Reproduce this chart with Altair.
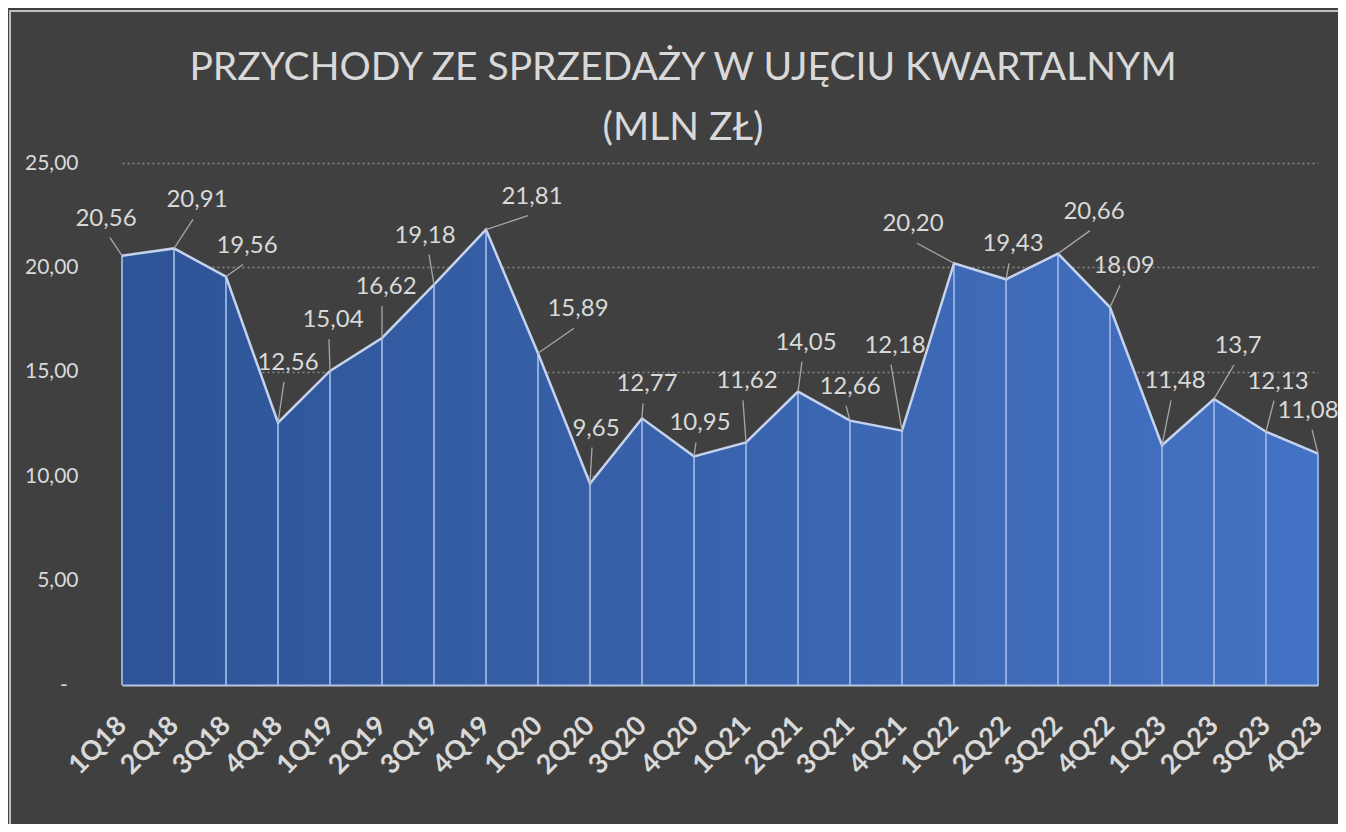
import altair as alt
import pandas as pd

quarters = ["1Q18", "2Q18", "3Q18", "4Q18", "1Q19", "2Q19", "3Q19", "4Q19",
            "1Q20", "2Q20", "3Q20", "4Q20", "1Q21", "2Q21", "3Q21", "4Q21",
            "1Q22", "2Q22", "3Q22", "4Q22", "1Q23", "2Q23", "3Q23", "4Q23"]
revenue = [20.56, 20.91, 19.56, 12.56, 15.04, 16.62, 19.18, 21.81,
           15.89, 9.65, 12.77, 10.95, 11.62, 14.05, 12.66, 12.18,
           20.20, 19.43, 20.66, 18.09, 11.48, 13.7, 12.13, 11.08]
value_labels = ["20,56", "20,91", "19,56", "12,56", "15,04", "16,62", "19,18", "21,81",
                "15,89", "9,65", "12,77", "10,95", "11,62", "14,05", "12,66", "12,18",
                "20,20", "19,43", "20,66", "18,09", "11,48", "13,7", "12,13", "11,08"]
y_ticks = [0, 5, 10, 15, 20, 25]
title_lines = ["PRZYCHODY ZE SPRZEDAŻY W UJĘCIU KWARTALNYM", "(MLN ZŁ)"]

# manual data-label placement (pixel nudge of each label from its point, as in the source)
label_dx = [-16, 23, 21, 10, 3, 4, -9, 46, 40, 6, 5, 6, 1, 8, 0, -7, -41, 7, 36, 14, 13, 24, 12, -10]
label_dy = [-37, -48, -31, -60, -51, -51, -49, -33, -44, -55, -34, -33, -61, -49, -34, -85,
            -39, -35, -42, -41, -64, -53, -50, -43]

df = pd.DataFrame({"q": quarters, "value": revenue, "label": value_labels,
                   "dx": label_dx, "dy": label_dy})

# leader lines: from point to just below its label
lead_rows = []
for q, v, dx, dy in zip(quarters, revenue, label_dx, label_dy):
    lead_rows.append({"q": q, "value": v, "ox": 0, "oy": 0})
    lead_rows.append({"q": q, "value": v, "ox": dx - 4 if dx > -8 else dx + 4, "oy": dy + 19})
lead_df = pd.DataFrame(lead_rows)

FONT = "Lato"
TXT = "#D9D9D9"
W, H = 1196, 522
YMAX = 25
PX = YMAX / H  # value units per pixel on the y scale
PAD = {"left": 114, "top": 155, "right": 20, "bottom": 139}

x = alt.X("q:N", sort=quarters, scale=alt.Scale(type="point", padding=0),
          axis=alt.Axis(title=None, labelAngle=-45, labelAlign="right", labelBaseline="middle",
                        labelFontWeight="bold", labelFontSize=27, labelColor=TXT, labelFont=FONT,
                        labelPadding=36, ticks=False, domain=True, domainColor="#B4C3E0",
                        domainWidth=2, grid=False, zindex=1))
yscale = alt.Scale(domain=[0, YMAX], nice=False, zero=True)
y = alt.Y("value:Q", scale=yscale,
          axis=alt.Axis(title=None, values=y_ticks, grid=True, gridDash=[2, 3],
                        gridColor="#8A8A8A", gridWidth=1.5, domain=False, ticks=False,
                        labelPadding=44, labelFontSize=21, labelColor=TXT, labelFont=FONT,
                        labelExpr="datum.value == 0 ? '-\u00a0\u00a0\u200b' : replace(format(datum.value, '.2f'), '.', ',')"))

base = alt.Chart(df)

gradient = alt.Gradient(gradient="linear", x1=0, x2=1, y1=0, y2=0,
                        stops=[alt.GradientStop(color="#2E5496", offset=0),
                               alt.GradientStop(color="#4472C4", offset=1)])

area = base.mark_area(color=gradient, opacity=1).encode(x=x, y=y)
drops = base.mark_rule(color="#8FAADC", strokeWidth=2).encode(x=x, y=y, y2=alt.datum(0))
topline = base.mark_line(color="#C5D3EE", strokeWidth=2.5).encode(x=x, y=y)
leaders = alt.Chart(lead_df).transform_calculate(
    ly=f"datum.value - datum.oy * {PX}"
).mark_line(color="#A6A6A6", strokeWidth=1.3).encode(
    x=x, y=alt.Y("ly:Q", scale=yscale), detail="q:N",
    xOffset=alt.XOffset("ox:Q", scale=None))
labels = base.transform_calculate(
    ly=f"datum.value - datum.dy * {PX}"
).mark_text(fontSize=24, font=FONT, color=TXT, baseline="middle", align="center").encode(
    x=x, y=alt.Y("ly:Q", scale=yscale), text="label:N",
    xOffset=alt.XOffset("dx:Q", scale=None))

one = alt.Data(values=[{}])
frame = alt.Chart(one).mark_rect(fill=None, stroke="#BFBFBF", strokeWidth=2).encode(
    x=alt.value(-PAD["left"] + 2), x2=alt.value(W + PAD["right"] + 40),
    y=alt.value(-PAD["top"] + 3), y2=alt.value(H + PAD["bottom"] + 40))
title1 = alt.Chart(one).mark_text(fontSize=39, font=FONT, color=TXT, align="center",
                                  baseline="alphabetic", text=title_lines[0]).encode(
    x=alt.value(561), y=alt.value(-83))
title2 = alt.Chart(one).mark_text(fontSize=39, font=FONT, color=TXT, align="center",
                                  baseline="alphabetic", text=title_lines[1]).encode(
    x=alt.value(561), y=alt.value(-23))

chart = alt.layer(frame, title1, title2, area, drops, topline, leaders, labels).properties(
    width=W, height=H,
    autosize=alt.AutoSizeParams(type="none"),
    padding=PAD,
    background="#404040",
).configure_view(stroke=None)

chart.save("out.html", embed_options={"renderer": "svg", "actions": False})
